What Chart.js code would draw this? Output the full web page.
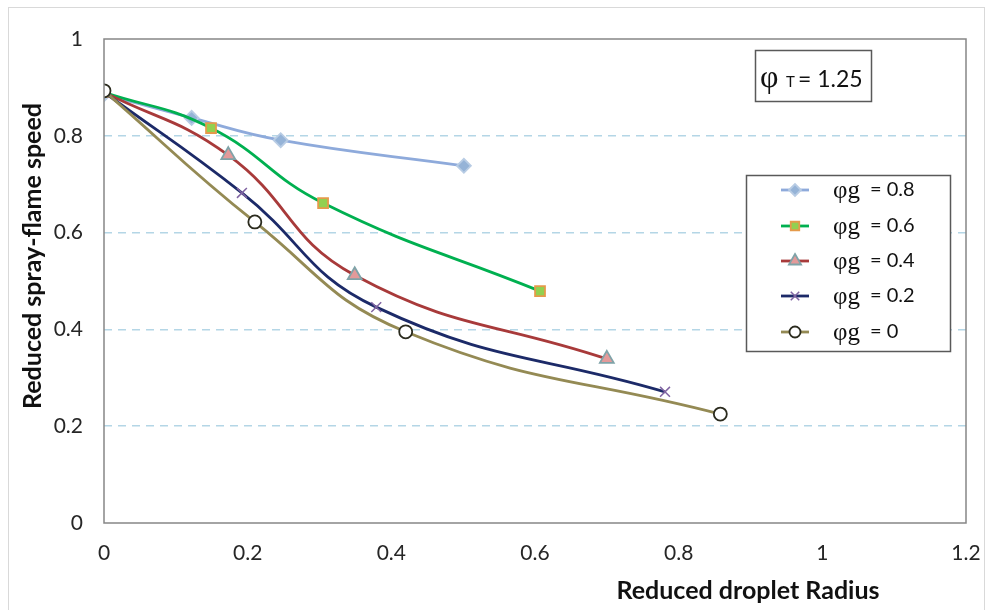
<!DOCTYPE html>
<html><head><meta charset="utf-8">
<script src="https://cdn.jsdelivr.net/npm/chart.js@4"></script>
<style>html,body{margin:0;padding:0;background:#fff}</style>
</head><body>
<canvas id="c" width="986" height="610"></canvas>
<script>
// ---- data ----
const seriesLabels = ['0.8', '0.6', '0.4', '0.2', '0'];
const x08 = [0, 0.122, 0.246, 0.501];
const y08 = [0.886, 0.837, 0.791, 0.738];
const x06 = [0, 0.149, 0.305, 0.607];
const y06 = [0.890, 0.816, 0.661, 0.479];
const x04 = [0, 0.173, 0.349, 0.700];
const y04 = [0.890, 0.760, 0.512, 0.339];
const x02 = [0, 0.192, 0.379, 0.781];
const y02 = [0.890, 0.682, 0.446, 0.271];
const x00 = [0, 0.210, 0.420, 0.858];
const y00 = [0.893, 0.622, 0.395, 0.225];
const xTicks = [0, 0.2, 0.4, 0.6, 0.8, 1, 1.2];
const yTicks = [0, 0.2, 0.4, 0.6, 0.8, 1];
const phiT = '1.25';
const xTitle = 'Reduced droplet Radius';
const yTitle = 'Reduced spray-flame speed';

const pts = (xs, ys) => xs.map((x, i) => ({x, y: ys[i]}));

const styles = [
  {line: '#8EAADB', fill: '#95B3D7', border: '#B8CCE4', shape: 'rectRot', r: 7},
  {line: '#00B050', fill: '#92D050', border: '#E59A4A', shape: 'rect', r: 7},
  {line: '#A83A3A', fill: '#E39A9A', border: '#7FA3A8', shape: 'triangle', r: 8},
  {line: '#1C2A68', fill: '#8064A2', border: '#8064A2', shape: 'crossRot', r: 7},
  {line: '#948A54', fill: '#FFFFFF', border: '#2B2B1E', shape: 'circle', r: 6.5}
];
const dataXY = [[x08, y08], [x06, y06], [x04, y04], [x02, y02], [x00, y00]];

const datasets = dataXY.map((d, i) => ({
  label: '\u03C6g = ' + seriesLabels[i],
  data: pts(d[0], d[1]),
  borderColor: styles[i].line,
  borderWidth: 2.8,
  pointStyle: styles[i].shape,
  pointRadius: styles[i].r,
  pointBackgroundColor: styles[i].fill,
  pointBorderColor: styles[i].border,
  pointBorderWidth: styles[i].shape === 'crossRot' ? 1.5 : 1.8,
  tension: 0.45,
  fill: false,
  order: 5 - i
}));

const FONT = 'Lato, sans-serif';

const decor = {
  id: 'decor',
  beforeDraw(chart) {
    const ctx = chart.ctx;
    ctx.save();
    ctx.fillStyle = '#fff';
    ctx.fillRect(0, 0, chart.width, chart.height);
    ctx.strokeStyle = '#D9D9D9';
    ctx.lineWidth = 1;
    ctx.strokeRect(8.5, 7.5, 976, 620);
    ctx.restore();
  },
  afterDatasetsDraw(chart) {
    const ctx = chart.ctx;
    const a = chart.chartArea;
    ctx.save();
    // plot frame
    ctx.strokeStyle = '#868686';
    ctx.lineWidth = 1.5;
    ctx.strokeRect(a.left, a.top, a.right - a.left, a.bottom - a.top);

    // axis titles
    ctx.fillStyle = '#111';
    ctx.font = 'bold 25px ' + FONT;
    ctx.textAlign = 'center';
    ctx.textBaseline = 'middle';
    ctx.fillText(xTitle, 748, 591);
    ctx.save();
    ctx.translate(33, 256);
    ctx.rotate(-Math.PI / 2);
    ctx.fillText(yTitle, 0, 0);
    ctx.restore();

    // phi_T box
    ctx.strokeStyle = '#595959';
    ctx.lineWidth = 1.5;
    ctx.strokeRect(755.5, 50.5, 116, 51);
    ctx.textAlign = 'left';
    ctx.textBaseline = 'alphabetic';
    ctx.font = '32px "Liberation Serif", serif';
    ctx.fillText('\u03C6', 760, 87);
    ctx.font = '15px ' + FONT;
    ctx.fillText('T', 786, 87);
    ctx.font = '23px ' + FONT;
    ctx.fillText('= ' + phiT, 798, 87);

    // legend box
    ctx.fillStyle = '#fff';
    ctx.fillRect(746, 175, 204, 176);
    ctx.strokeStyle = '#595959';
    ctx.lineWidth = 1.5;
    ctx.strokeRect(746.5, 175.5, 204, 176);
    const rowY = [190, 226, 261, 296, 332];
    styles.forEach((s, i) => {
      const y = rowY[i];
      ctx.strokeStyle = s.line;
      ctx.lineWidth = 2.8;
      ctx.beginPath();
      ctx.moveTo(781, y);
      ctx.lineTo(809, y);
      ctx.stroke();
      ctx.fillStyle = s.fill;
      ctx.strokeStyle = s.border;
      ctx.lineWidth = s.shape === 'crossRot' ? 1.5 : 1.8;
      Chart.helpers.drawPoint(ctx, {pointStyle: s.shape, radius: s.r - 1, rotation: 0, borderWidth: ctx.lineWidth}, 795, y);
      ctx.fillStyle = '#111';
      ctx.textBaseline = 'middle';
      ctx.font = '25px "Liberation Serif", serif';
      ctx.fillText('\u03C6g', 833, y + 1);
      ctx.font = '20px ' + FONT;
      ctx.fillText('= ' + seriesLabels[i], 870, y);
    });
    ctx.restore();
  }
};

new Chart(document.getElementById('c'), {
  type: 'line',
  data: {datasets},
  plugins: [decor],
  options: {
    responsive: false,
    animation: false,
    layout: {padding: {left: 0, right: 20, top: 39, bottom: 0}},
    plugins: {legend: {display: false}, tooltip: {enabled: false}},
    scales: {
      x: {
        type: 'linear', min: 0, max: 1.2,
        afterBuildTicks: s => { s.ticks = xTicks.map(v => ({value: v})); },
        afterFit: s => { s.height = 87; s.paddingRight = 0; s.paddingLeft = 0; },
        ticks: {font: {family: FONT, size: 21}, color: '#262626', padding: 18,
          callback: v => String(+v.toFixed(1))},
        grid: {display: false, drawTicks: false},
        border: {display: false}
      },
      y: {
        min: 0, max: 1,
        afterBuildTicks: s => { s.ticks = yTicks.map(v => ({value: v})); },
        afterFit: s => { s.width = 104; s.paddingTop = 0; s.paddingBottom = 0; },
        ticks: {font: {family: FONT, size: 21}, color: '#262626', padding: 21,
          callback: v => String(+v.toFixed(1))},
        grid: {drawTicks: false, lineWidth: 1.5,
          color: c => (c.tick && (c.tick.value === 0 || c.tick.value === 1)) ? 'rgba(0,0,0,0)' : '#B4D6E6'},
        border: {display: false, dash: [8, 6]}
      }
    }
  }
});
</script>
</body></html>
